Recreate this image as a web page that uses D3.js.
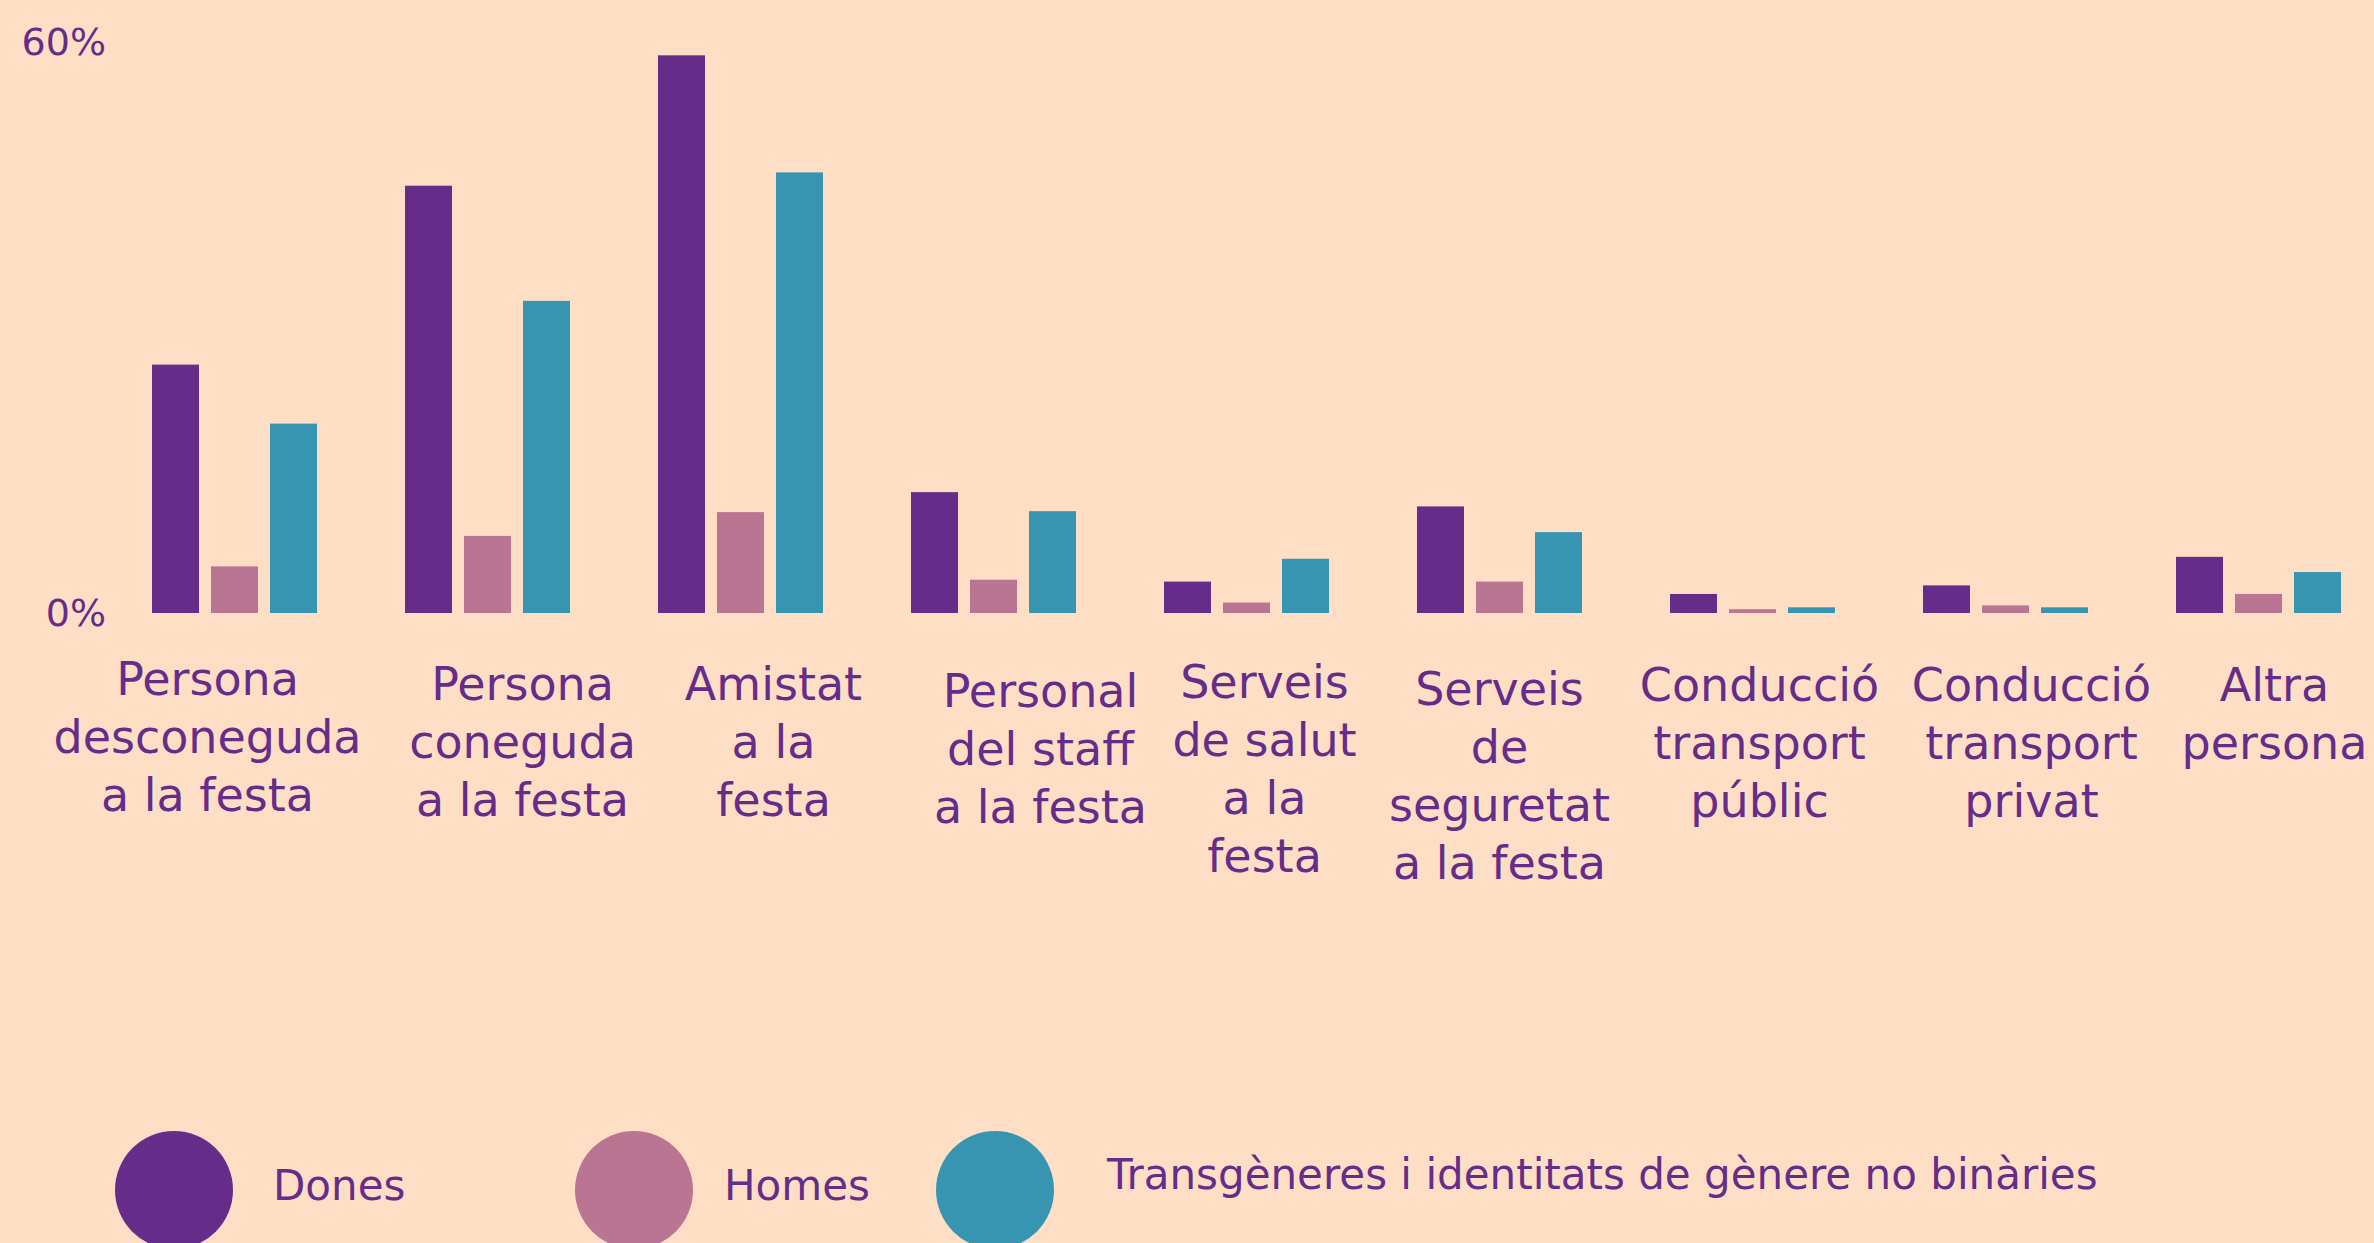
<!DOCTYPE html>
<html>
<head>
<meta charset="utf-8">
<script src="https://cdn.jsdelivr.net/npm/d3@7"></script>
<style>
  html, body { margin: 0; padding: 0; background: #fedfc6; }
  svg { display: block; font-family: "DejaVu Sans", sans-serif; }
</style>
</head>
<body>
<svg id="chart-svg" width="2374" height="1243"></svg>
<script>
      // Data (percent)
      const categories = [
          "Persona|desconeguda|a la festa",
          "Persona|coneguda|a la festa",
          "Amistat|a la|festa",
          "Personal|del staff|a la festa",
          "Serveis|de salut|a la|festa",
          "Serveis|de|seguretat|a la festa",
          "Conducció|transport|públic",
          "Conducció|transport|privat",
          "Altra|persona"
      ];
      const seriesNames = ["Dones", "Homes", "Transgèneres i identitats de gènere no binàries"];
      const dones = [26.1, 44.9, 58.6, 12.7, 3.3, 11.2, 2.0, 2.9, 5.9];
      const homes = [4.9, 8.1, 10.6, 3.5, 1.1, 3.3, 0.4, 0.8, 2.0];
      const trans = [19.9, 32.8, 46.3, 10.7, 5.7, 8.5, 0.6, 0.6, 4.3];
      const yTicks = [0, 60];

      const colors = ["#652c8a", "#ba7593", "#3795b2"];
      const textColor = "#652d89";

      // hand placement of the labels in the original (px nudges)
      const labelDx = [-27, 35, 33, 47, 18, 0, 7, 26, 16];
      const labelDy = [0, 5, 5, 12, 3, 10, 6, 6, 6];

      const svg = d3.select("#chart-svg");
      const width = 2374;
      const height = 1243;

      svg.append("rect")
          .attr("width", width)
          .attr("height", height)
          .attr("fill", "#fedfc6");

      // build rows for grouped bars
      const seriesValues = [dones, homes, trans];
      const rows = categories.map((c, i) => ({
          category: c,
          values: seriesNames.map((s, j) => ({ key: s, value: seriesValues[j][i] }))
      }));

      const x0 = d3.scaleBand()
          .domain(categories)
          .range([108, 108 + 9 * 253])
          .paddingInner(0.3478)
          .paddingOuter(0.1739);

      const x1 = d3.scaleBand()
          .domain(seriesNames)
          .range([0, x0.bandwidth()])
          .paddingInner(0.2034);

      const y = d3.scaleLinear()
          .domain([0, 60])
          .range([613, 42]);

      const color = d3.scaleOrdinal()
          .domain(seriesNames)
          .range(colors);

      // bars
      const groups = svg.selectAll(".group")
          .data(rows)
          .enter()
          .append("g")
          .attr("class", "group")
          .attr("transform", d => `translate(${x0(d.category)},0)`);

      groups.selectAll("rect")
          .data(d => d.values)
          .enter()
          .append("rect")
          .attr("x", d => x1(d.key))
          .attr("y", d => y(d.value))
          .attr("width", x1.bandwidth())
          .attr("height", d => y(0) - y(d.value))
          .attr("fill", d => color(d.key));

      // Y axis (only 0% and 60%)
      const yAxis = svg.append("g")
          .attr("transform", "translate(106,0)")
          .call(d3.axisLeft(y).tickValues(yTicks).tickSize(0).tickPadding(0).tickFormat(d => d + "%"));
      yAxis.select(".domain").remove();
      yAxis.selectAll("text")
          .attr("fill", textColor)
          .attr("font-size", 38)
          .attr("font-family", "DejaVu Sans, sans-serif");

      // category labels, multi-line
      const labels = svg.selectAll(".cat-label")
          .data(categories)
          .enter()
          .append("text")
          .attr("class", "cat-label")
          .attr("text-anchor", "middle")
          .attr("font-size", 46)
          .attr("fill", textColor)
          .attr("transform", (d, i) => `translate(${x0(d) + x0.bandwidth() / 2 + labelDx[i]},${695 + labelDy[i]})`);

      labels.selectAll("tspan")
          .data(d => d.split("|"))
          .enter()
          .append("tspan")
          .attr("x", 0)
          .attr("y", (d, i) => i * 58)
          .text(d => d);

      // legend
      const legendX = [174, 634, 995];
      const legendTextDx = [99, 90, 112];
      const legend = svg.selectAll(".legend")
          .data(seriesNames)
          .enter()
          .append("g")
          .attr("class", "legend")
          .attr("transform", (d, i) => `translate(${legendX[i]},1190)`);

      legend.append("circle")
          .attr("r", 59)
          .attr("fill", d => color(d));

      legend.append("text")
          .attr("x", (d, i) => legendTextDx[i])
          .attr("y", (d, i) => i === 2 ? -1 : 10)
          .attr("font-size", 42)
          .attr("fill", textColor)
          .text(d => d);
</script>
</body>
</html>
